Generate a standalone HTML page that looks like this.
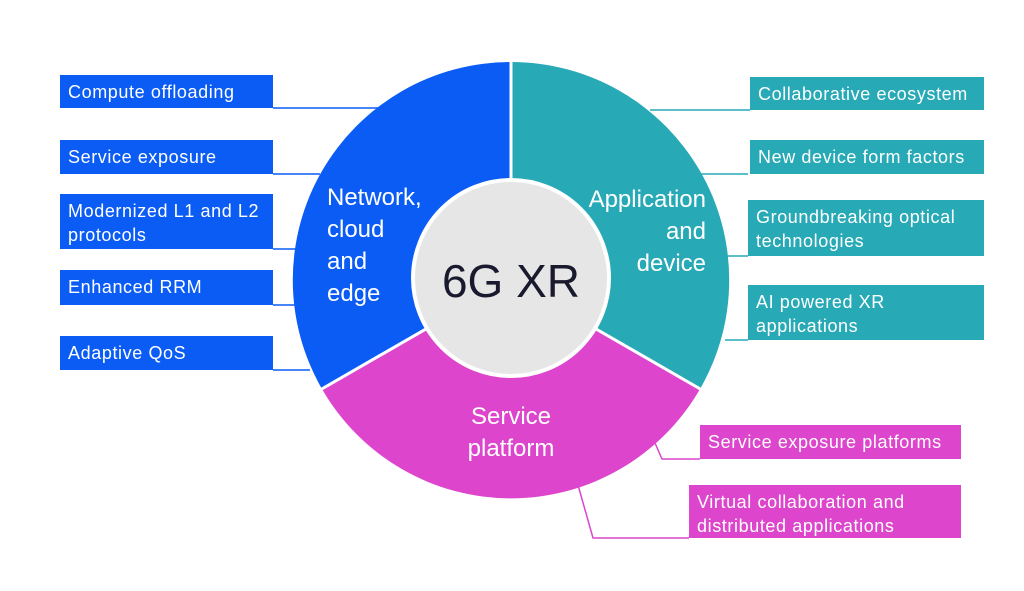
<!DOCTYPE html>
<html><head><style>
body{margin:0;width:1024px;height:591px;background:#fff;overflow:hidden;position:relative;font-family:"Liberation Sans",sans-serif}
.b{position:absolute;color:#fff;font-size:18px;letter-spacing:0.6px;line-height:24px;padding:5px 8px 0 8px;box-sizing:border-box;white-space:nowrap}
.bl{background:#0a5cf5}.tl{background:#27a9b6}.mg{background:#dc45cc}
</style></head><body>
<svg width="1024" height="591" style="position:absolute;left:0;top:0">
<g fill="none" stroke-width="1.5">
<path d="M273 108H380" stroke="#0a5cf5"/>
<path d="M273 174H320" stroke="#0a5cf5"/>
<path d="M273 249H300" stroke="#0a5cf5"/>
<path d="M273 305H296" stroke="#0a5cf5"/>
<path d="M273 370H310" stroke="#0a5cf5"/>
<path d="M750 110H650" stroke="#27a9b6"/>
<path d="M748 174H700" stroke="#27a9b6"/>
<path d="M748 256H720" stroke="#27a9b6"/>
<path d="M748 340H725" stroke="#27a9b6"/>
<path d="M700 459H662L655 443" stroke="#dc45cc"/>
<path d="M689 538H593L578 485" stroke="#dc45cc"/>
</g>
<path d="M511 280L511 62A218 218 0 0 0 322 389Z" fill="#0a5cf5"/>
<path d="M511 280L511 62A218 218 0 0 1 700 389Z" fill="#27a9b6"/>
<path d="M511 280L322 389A218 218 0 0 0 700 389Z" fill="#dc45cc"/>
<g stroke="#fff" stroke-width="3"><line x1="511" y1="280" x2="511" y2="60"/><line x1="511" y1="280" x2="320" y2="390"/><line x1="511" y1="280" x2="702" y2="390"/></g>
<circle cx="511" cy="278" r="98" fill="#e6e6e6" stroke="#fff" stroke-width="4"/>
<text x="511" y="297" text-anchor="middle" font-size="46" fill="#1a1a2e" font-family="Liberation Sans">6G XR</text>
<g fill="#fff" font-size="24" font-family="Liberation Sans">
<text x="327" y="205">Network,</text><text x="327" y="237">cloud</text><text x="327" y="269">and</text><text x="327" y="301">edge</text>
<text x="706" y="207" text-anchor="end">Application</text><text x="706" y="239" text-anchor="end">and</text><text x="706" y="271" text-anchor="end">device</text>
<text x="511" y="424" text-anchor="middle">Service</text><text x="511" y="456" text-anchor="middle">platform</text>
</g>
</svg>
<div class="b bl" style="left:60px;top:75px;width:213px;height:33px">Compute offloading</div>
<div class="b bl" style="left:60px;top:140px;width:213px;height:34px">Service exposure</div>
<div class="b bl" style="left:60px;top:194px;width:213px;height:55px">Modernized L1 and L2<br>protocols</div>
<div class="b bl" style="left:60px;top:270px;width:213px;height:35px">Enhanced RRM</div>
<div class="b bl" style="left:60px;top:336px;width:213px;height:34px">Adaptive QoS</div>
<div class="b tl" style="left:750px;top:77px;width:234px;height:33px">Collaborative ecosystem</div>
<div class="b tl" style="left:750px;top:140px;width:234px;height:34px">New device form factors</div>
<div class="b tl" style="left:748px;top:200px;width:236px;height:56px">Groundbreaking optical<br>technologies</div>
<div class="b tl" style="left:748px;top:285px;width:236px;height:55px">AI powered XR<br>applications</div>
<div class="b mg" style="left:700px;top:425px;width:261px;height:34px">Service exposure platforms</div>
<div class="b mg" style="left:689px;top:485px;width:272px;height:53px">Virtual collaboration and<br>distributed applications</div>
</body></html>
